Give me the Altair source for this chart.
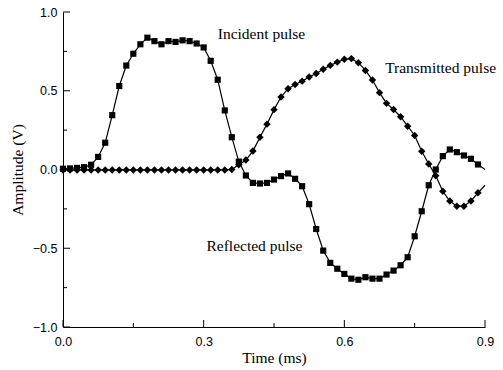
import altair as alt
import pandas as pd

# Time axis (ms)
time_ms = [0.000, 0.015, 0.030, 0.045, 0.060, 0.075, 0.090, 0.105, 0.120, 0.135,
           0.150, 0.165, 0.180, 0.195, 0.210, 0.225, 0.240, 0.255, 0.270, 0.285,
           0.300, 0.315, 0.330, 0.345, 0.360, 0.375, 0.390, 0.405, 0.420, 0.435,
           0.450, 0.465, 0.480, 0.495, 0.510, 0.525, 0.540, 0.555, 0.570, 0.585,
           0.600, 0.615, 0.630, 0.645, 0.660, 0.675, 0.690, 0.705, 0.720, 0.735,
           0.750, 0.765, 0.780, 0.795, 0.810, 0.825, 0.840, 0.855, 0.870, 0.885,
           0.900]

# Incident + reflected pulse (squares)
incident_reflected = [0.005, 0.007, 0.010, 0.015, 0.030, 0.080, 0.170, 0.345, 0.530, 0.660,
                      0.735, 0.795, 0.837, 0.815, 0.795, 0.815, 0.810, 0.820, 0.815, 0.800,
                      0.775, 0.690, 0.570, 0.375, 0.205, 0.050, -0.038, -0.085, -0.089, -0.085,
                      -0.064, -0.042, -0.025, -0.059, -0.106, -0.220, -0.378, -0.515, -0.593, -0.630,
                      -0.663, -0.693, -0.700, -0.684, -0.693, -0.693, -0.667, -0.642, -0.608, -0.557,
                      -0.424, -0.265, -0.100, 0.000, 0.085, 0.127, 0.110, 0.089, 0.068, 0.032,
                      0.000]

# Transmitted pulse (diamonds)
transmitted = [-0.003, -0.003, -0.003, -0.003, -0.003, -0.003, -0.003, -0.003, -0.003, -0.003,
               -0.003, -0.003, -0.003, -0.003, -0.003, -0.003, -0.003, -0.003, -0.003, -0.003,
               -0.003, -0.003, -0.003, -0.003, 0.000, 0.030, 0.060, 0.117, 0.205, 0.288,
               0.380, 0.460, 0.513, 0.540, 0.561, 0.587, 0.610, 0.636, 0.661, 0.682,
               0.700, 0.704, 0.678, 0.629, 0.568, 0.488, 0.420, 0.381, 0.335, 0.275,
               0.216, 0.116, 0.035, -0.040, -0.138, -0.200, -0.233, -0.233, -0.200, -0.148,
               -0.100]

x_major = [0.0, 0.3, 0.6, 0.9]
x_minor = [0.15, 0.45, 0.75]
y_major = [-1.0, -0.5, 0.0, 0.5, 1.0]
y_minor = [-0.75, -0.25, 0.25, 0.75]

label_text = ["Incident pulse", "Transmitted pulse", "Reflected pulse"]
label_x = [0.330, 0.687, 0.306]
label_y = [0.858, 0.642, -0.488]

rows = []
for t, a in zip(time_ms, incident_reflected):
    rows.append({"series": "Incident/Reflected", "t": t, "v": a, "mark": t < 0.89})
for t, a in zip(time_ms, transmitted):
    rows.append({"series": "Transmitted", "t": t, "v": a, "mark": t < 0.89})
df = pd.DataFrame(rows)

W, H = 422, 315
xscale = alt.Scale(domain=[0, 0.9], nice=False, zero=False)
yscale = alt.Scale(domain=[-1, 1], nice=False, zero=False)

xaxis = alt.Axis(values=x_major, format=".1f", ticks=False, grid=False,
                 domainColor="black", domainWidth=1, labelFlush=False,
                 labelFont="Liberation Sans", labelFontSize=12.5, labelColor="black",
                 labelPadding=8, title="Time (ms)", titleFont="Liberation Serif",
                 titleFontSize=15.5, titleFontWeight="normal", titleColor="black",
                 titleX=W / 2, titleY=30, titleBaseline="middle", titleAlign="center")
yaxis = alt.Axis(values=y_major, format=".1f", ticks=False, grid=False,
                 domainColor="black", domainWidth=1, labelFlush=False,
                 labelFont="Liberation Sans", labelFontSize=12.5, labelColor="black",
                 labelPadding=6, title="Amplitude (V)", titleFont="Liberation Serif",
                 titleFontSize=15.5, titleFontWeight="normal", titleColor="black",
                 titleAngle=-90, titleX=-46, titleY=H / 2, titleBaseline="middle",
                 titleAlign="center")


def X(field):
    return alt.X(field, type="quantitative", scale=xscale, axis=xaxis)


def Y(field):
    return alt.Y(field, type="quantitative", scale=yscale, axis=yaxis)


base = alt.Chart(df)
lines = base.mark_line(color="black", strokeWidth=1.2).encode(
    x=X("t"), y=Y("v"), detail="series:N",
)
squares = base.transform_filter(
    (alt.datum.series == "Incident/Reflected") & alt.datum.mark
).mark_point(shape="square", filled=True, color="black", opacity=1, size=38).encode(
    x=X("t"), y=Y("v"),
)
diamonds = base.transform_filter(
    (alt.datum.series == "Transmitted") & alt.datum.mark
).mark_point(shape="diamond", filled=True, color="black", opacity=1, size=55).encode(
    x=X("t"), y=Y("v"),
)

labels = alt.Chart(pd.DataFrame({"text": label_text, "t": label_x, "v": label_y})).mark_text(
    align="left", baseline="middle", font="Liberation Serif", fontSize=15.5, color="black"
).encode(x=X("t"), y=Y("v"), text="text:N")

xmaj = alt.Chart(pd.DataFrame({"t": x_major})).mark_rule(color="black", strokeWidth=1).encode(
    x=X("t"), y=alt.value(H), y2=alt.value(H - 7))
xmin = alt.Chart(pd.DataFrame({"t": x_minor})).mark_rule(color="black", strokeWidth=1).encode(
    x=X("t"), y=alt.value(H), y2=alt.value(H - 4))
ymaj = alt.Chart(pd.DataFrame({"v": y_major})).mark_rule(color="black", strokeWidth=1).encode(
    y=Y("v"), x=alt.value(0), x2=alt.value(7))
ymin = alt.Chart(pd.DataFrame({"v": y_minor})).mark_rule(color="black", strokeWidth=1).encode(
    y=Y("v"), x=alt.value(0), x2=alt.value(4))

chart = alt.layer(lines, squares, diamonds, labels, xmaj, xmin, ymaj, ymin).properties(
    width=W, height=H,
    autosize=alt.AutoSizeParams(type="none"),
    padding={"left": 63, "top": 12, "right": 18, "bottom": 43},
    background="white",
).configure_view(stroke=None)

chart.save("out.html", embed_options={"renderer": "svg", "actions": False})
